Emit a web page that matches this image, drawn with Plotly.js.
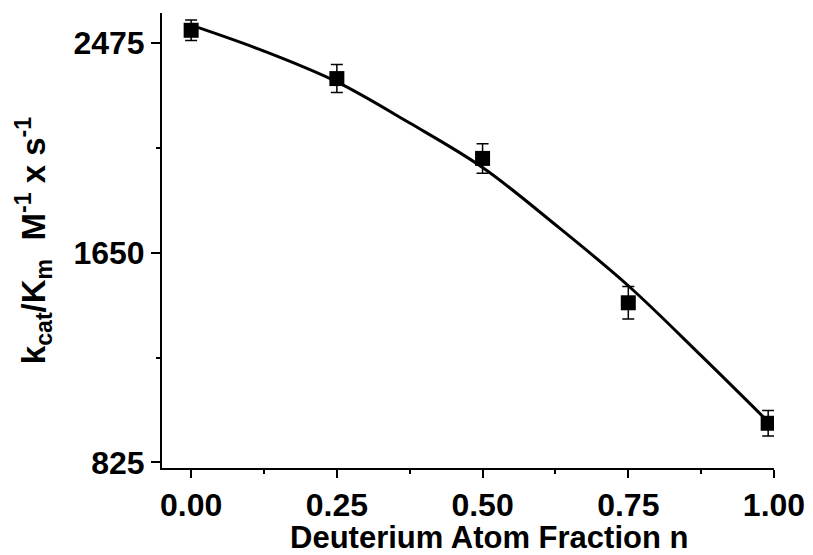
<!DOCTYPE html>
<html>
<head>
<meta charset="utf-8">
<script src="https://cdn.plot.ly/plotly-3.0.1.min.js"></script>
<style>html,body{margin:0;padding:0;background:#fff;}#chart{width:813px;height:555px;}</style>
</head>
<body>
<div id="chart"></div>
<script>
// Measured data points
const fractionN = [0.00, 0.25, 0.50, 0.75, 0.99];
const kcatKm = [2525, 2335, 2021, 1453, 979];
const kcatKmErr = [40, 55, 58, 64, 50];

// Fit curve
const fitX = [0.00, 0.125, 0.25, 0.375, 0.50, 0.625, 0.75, 0.875, 0.99];
const fitY = [2545, 2443, 2322, 2160, 1985, 1760, 1520, 1245, 985];

// Tick labels
const xTickVals = [0.00, 0.25, 0.50, 0.75, 1.00];
const xTickText = ['0.00', '0.25', '0.50', '0.75', '1.00'];
const xMinorVals = [0.125, 0.375, 0.625, 0.875];
const yTickVals = [825, 1650, 2475];
const yTickText = ['825', '1650', '2475'];
const yMinorVals = [1237.5, 2062.5];

const xTitle = 'Deuterium Atom Fraction n';
const yTitle = 'k<sub>cat</sub>/K<sub>m</sub>\u00a0\u00a0M<sup>-1</sup> x s<sup>-1</sup>';

const fontFam = 'Liberation Sans, Arial, sans-serif';

const traces = [
  {
    x: fitX, y: fitY, type: 'scatter', mode: 'lines',
    line: {color: '#000', width: 3, shape: 'spline', smoothing: 1},
    hoverinfo: 'skip', showlegend: false
  },
  {
    x: fractionN, y: kcatKm, type: 'scatter', mode: 'markers',
    marker: {symbol: 'square', size: 15, color: '#000'},
    error_y: {type: 'data', array: kcatKmErr, visible: true, color: '#000', thickness: 1.5, width: 6},
    showlegend: false
  }
];

const layout = {
  width: 813, height: 555,
  margin: {l: 162, r: 39, t: 13, b: 87},
  paper_bgcolor: '#fff', plot_bgcolor: '#fff',
  font: {family: fontFam, color: '#000'},
  showlegend: false,
  xaxis: {
    range: [-0.05, 1.0],
    tickmode: 'array', tickvals: xTickVals, ticktext: xTickText,
    ticks: 'outside', ticklen: 8, tickwidth: 2, tickcolor: '#000',
    showline: true, linewidth: 2, linecolor: '#000',
    showgrid: false, zeroline: false,
    tickfont: {family: fontFam, size: 32, weight: 'bold', color: '#000'},
    minor: {tickmode: 'array', tickvals: xMinorVals, ticks: 'outside', ticklen: 4, tickwidth: 2, tickcolor: '#000', showgrid: false}
  },
  yaxis: {
    range: [803, 2593],
    tickmode: 'array', tickvals: yTickVals, ticktext: yTickText,
    ticks: 'outside', ticklen: 9, tickwidth: 2, tickcolor: '#000',
    showline: true, linewidth: 2, linecolor: '#000',
    showgrid: false, zeroline: false,
    tickfont: {family: fontFam, size: 32, weight: 'bold', color: '#000'},
    minor: {tickmode: 'array', tickvals: yMinorVals, ticks: 'outside', ticklen: 4, tickwidth: 2, tickcolor: '#000', showgrid: false},
    title: {text: yTitle, font: {family: fontFam, size: 33, weight: 'bold', color: '#000'}, standoff: 18}
  },
  annotations: [{
    text: xTitle, xref: 'paper', yref: 'paper', x: 0.535, y: -0.152,
    xanchor: 'center', yanchor: 'middle', showarrow: false,
    font: {family: fontFam, size: 31, weight: 'bold', color: '#000'}
  }]
};

Plotly.newPlot('chart', traces, layout, {displayModeBar: false, staticPlot: true});
</script>
</body>
</html>
